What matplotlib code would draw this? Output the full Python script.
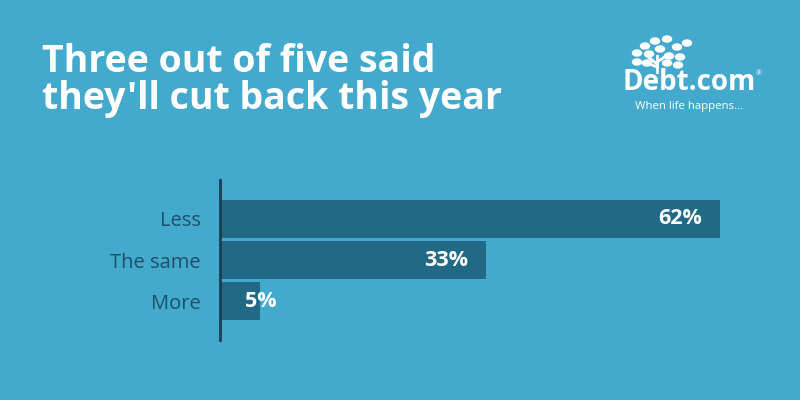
import matplotlib
matplotlib.use("Agg")
import matplotlib.pyplot as plt
from matplotlib.patches import Ellipse

categories = ["Less", "The same", "More"]
values = [62, 33, 5]
value_labels = ["62%", "33%", "5%"]

bg = "#44aacd"
bar_color = "#216a86"
text_dark = "#1d4f68"

plt.rcParams["font.family"] = ["Open Sans", "DejaVu Sans"]

fig = plt.figure(figsize=(8, 4), dpi=100)
fig.patch.set_facecolor(bg)

ax = fig.add_axes([0.275, 0.15, 0.625, 0.40])
ax.set_facecolor(bg)
ypos = list(range(len(categories)))
bars = ax.barh(ypos, values, height=0.92, color=bar_color)
ax.set_xlim(0, max(values))
ax.set_ylim(len(categories) - 0.05, -0.95)
ax.set_yticks(ypos)
ax.set_yticklabels(categories, fontsize=14.5, color=text_dark)
ax.tick_params(axis="y", length=0, pad=14)
ax.set_xticks([])
for s in ["top", "right", "bottom"]:
    ax.spines[s].set_visible(False)
ax.spines["left"].set_color("#183f52")
ax.spines["left"].set_linewidth(2)

for b, lab in zip(bars, value_labels):
    yc = b.get_y() + b.get_height() / 2
    if b.get_width() > 10:
        ax.annotate(lab, xy=(b.get_width(), yc), xytext=(-13, 0),
                    textcoords="offset points", ha="right", va="center",
                    color="white", fontsize=15.5, fontweight="bold")
    else:
        ax.annotate(lab, xy=(0, yc), xytext=(18, 0),
                    textcoords="offset points", ha="left", va="center",
                    color="white", fontsize=15.5, fontweight="bold")

# title
fig.text(0.052, 0.82, "Three out of five said", fontsize=27, fontweight="bold",
         color="white", ha="left", va="baseline")
fig.text(0.052, 0.728, "they'll cut back this year", fontsize=27, fontweight="bold",
         color="white", ha="left", va="baseline")

# logo
fig.text(0.778, 0.775, "Debt.com", fontsize=20, color="white", ha="left",
         va="baseline", fontweight="bold")
fig.text(0.944, 0.812, "®", fontsize=5, color="white", ha="left", va="baseline")
fig.text(0.794, 0.728, "When life happens...", fontsize=8.2, color="white",
         ha="left", va="baseline")

# small tree mark (pixel positions from top-left)
leaves = [(655, 41), (667, 39), (645, 46), (660, 49), (677, 47), (637, 53),
          (649, 54), (680, 57), (669, 56), (637, 62), (647, 63), (678, 65),
          (667, 63), (687, 43)]
for px, py in leaves:
    fig.patches.append(Ellipse((px / 800, 1 - py / 400), 9 / 800, 6 / 400,
                               color="white", transform=fig.transFigure,
                               figure=fig))
for (x0, y0), (x1, y1) in [((657, 72), (657, 56)), ((657, 64), (647, 56)),
                           ((657, 62), (669, 54)), ((657, 67), (645, 62))]:
    fig.add_artist(plt.Line2D([x0 / 800, x1 / 800], [1 - y0 / 400, 1 - y1 / 400],
                              color="white", lw=2, transform=fig.transFigure))

fig.savefig("out.png", dpi=100, facecolor=bg)
